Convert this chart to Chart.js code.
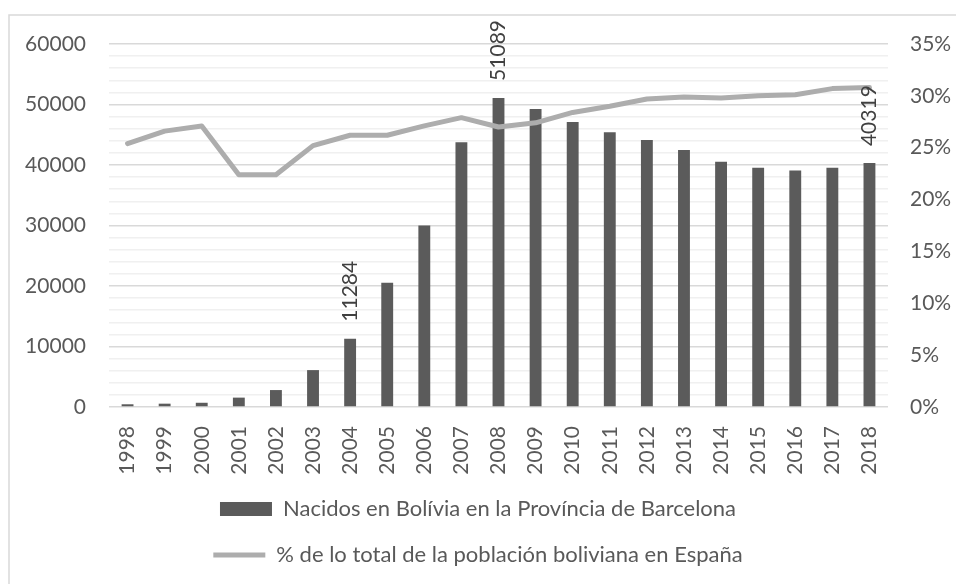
<!DOCTYPE html>
<html>
<head>
<meta charset="utf-8">
<script src="https://cdn.jsdelivr.net/npm/chart.js@4.4.1/dist/chart.umd.min.js"></script>
<style>
    html, body { margin: 0; padding: 0; background: #ffffff; }
    #wrap { position: relative; width: 956px; height: 584px; }
</style>
</head>
<body>
<div id="wrap"><canvas id="chart-combo"></canvas></div>
<script>
const years = ['1998', '1999', '2000', '2001', '2002', '2003', '2004', '2005', '2006', '2007', '2008',
    '2009', '2010', '2011', '2012', '2013', '2014', '2015', '2016', '2017', '2018']
const nacidos = [450, 550, 700, 1550, 2800, 6100, 11284, 20550, 30000, 43750, 51089,
    49250, 47100, 45400, 44150, 42500, 40550, 39550, 39100, 39550, 40319]
const porcentaje = [25.4, 26.6, 27.1, 22.4, 22.4, 25.2, 26.2, 26.2, 27.1, 27.9, 27.0,
    27.4, 28.4, 29.0, 29.7, 29.9, 29.8, 30.0, 30.1, 30.7, 30.8]
const labelled = ['2004', '2008', '2018']
const leftMax = 60000
const rightMax = 35

const fontFamily = 'Lato, "Liberation Sans", sans-serif'
const textColor = '#595959'

// frame around the chart (only top and left edges are inside the crop)
const frame = {
    id: 'frame',
    beforeDraw(chart) {
        let ctx = chart.ctx
        ctx.save()
        ctx.strokeStyle = '#d9d9d9'
        ctx.lineWidth = 1.5
        ctx.strokeRect(9, 15, 960, 600)
        ctx.restore()
    }
}

// rotated value labels above some bars
const barLabels = {
    id: 'barLabels',
    afterDatasetsDraw(chart) {
        let ctx = chart.ctx
        let meta = chart.getDatasetMeta(0)
        ctx.save()
        ctx.fillStyle = '#404040'
        ctx.font = '21px ' + fontFamily
        ctx.textAlign = 'left'
        ctx.textBaseline = 'middle'
        years.forEach((y, i) => {
            if (!labelled.includes(y)) return
            let bar = meta.data[i]
            ctx.save()
            ctx.translate(bar.x, bar.y - 17)
            ctx.rotate(-Math.PI / 2)
            ctx.fillText(String(nacidos[i]), 0, 0)
            ctx.restore()
        })
        ctx.restore()
    }
}

let combo = document.getElementById('chart-combo')

new Chart(combo, {
    type: 'bar',
    data: {
        labels: years,
        datasets: [
            {
                type: 'bar',
                label: 'Nacidos en Bolívia en la Província de Barcelona',
                data: nacidos,
                yAxisID: 'y',
                backgroundColor: '#5b5b5b',
                borderWidth: 0,
                categoryPercentage: 1,
                barPercentage: 0.32,
                pointStyle: 'rect',
                order: 2
            },
            {
                type: 'line',
                label: '% de lo total de la población boliviana en España',
                data: porcentaje,
                yAxisID: 'y1',
                borderColor: '#adadad',
                backgroundColor: '#adadad',
                borderWidth: 5,
                borderCapStyle: 'round',
                borderJoinStyle: 'round',
                pointRadius: 0,
                pointStyle: 'line',
                tension: 0,
                order: 1
            }
        ]
    },
    options: {
        responsive: true,
        maintainAspectRatio: false,
        animation: false,
        layout: {
            padding: { left: 0, right: 0, top: 44, bottom: 8 }
        },
        scales: {
            x: {
                grid: { display: false },
                border: { display: false },
                ticks: {
                    color: textColor,
                    font: { family: fontFamily, size: 21 },
                    minRotation: 90,
                    maxRotation: 90,
                    padding: 11,
                    autoSkip: false
                },
                afterFit(scale) {
                    scale.height = 67
                }
            },
            y: {
                position: 'left',
                min: 0,
                max: leftMax,
                ticks: {
                    stepSize: 2000,
                    autoSkip: false,
                    color: textColor,
                    padding: 23,
                    font: { family: fontFamily, size: 21 },
                    callback: v => (v % 10000 === 0 ? String(v) : '')
                },
                border: { display: false },
                grid: {
                    drawTicks: false,
                    color: ctx => (ctx.tick.value % 10000 === 0 ? '#d9d9d9' : '#f0f0f0'),
                    lineWidth: 1.5
                },
                afterFit(scale) {
                    scale.width = 109
                }
            },
            y1: {
                position: 'right',
                min: 0,
                max: rightMax,
                ticks: {
                    stepSize: 5,
                    color: textColor,
                    padding: 22,
                    font: { family: fontFamily, size: 21 },
                    callback: v => v + '%'
                },
                border: { display: false },
                grid: { drawOnChartArea: false, drawTicks: false },
                afterFit(scale) {
                    scale.width = 68
                }
            }
        },
        plugins: {
            title: { display: false },
            tooltip: { enabled: false },
            legend: {
                display: true,
                position: 'bottom',
                labels: {
                    color: textColor,
                    font: { family: fontFamily, size: 22 },
                    usePointStyle: true,
                    pointStyleWidth: 52,
                    boxHeight: 14,
                    padding: 24,
                    sort: (a, b) => a.datasetIndex - b.datasetIndex
                }
            }
        }
    },
    plugins: [frame, barLabels]
})
</script>
</body>
</html>
